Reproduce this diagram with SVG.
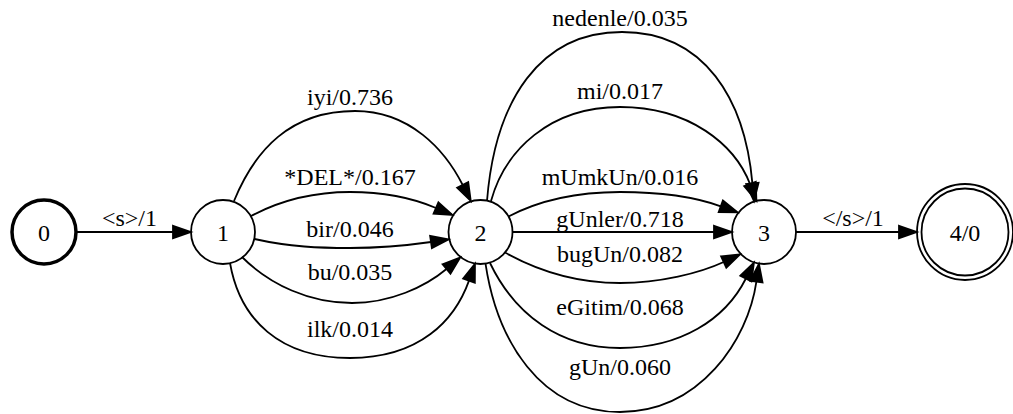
<svg xmlns="http://www.w3.org/2000/svg" width="1013" height="414" viewBox="0 0 1013 414">
  <style>
    .state { fill: none; stroke: #000; stroke-width: 1.8; }
    .start { stroke-width: 3.5; }
    .edge { fill: none; stroke: #000; stroke-width: 1.8; marker-end: url(#arrow); }
    text { font-family: "Liberation Serif", "Times New Roman", serif; font-size: 24px; fill: #000; text-anchor: middle; }
  </style>
  <defs>
    <!-- filled arrowhead; the edge path ends at the arrow's base -->
    <marker id="arrow" markerUnits="userSpaceOnUse" viewBox="-1 -8 20 16" refX="0" refY="0" markerWidth="20" markerHeight="16" orient="auto" overflow="visible">
      <path d="M0,-6.2 L17.8,0 L0,6.2 Z" fill="#000" stroke="#000" stroke-width="1.8" stroke-linejoin="miter"/>
    </marker>
  </defs>

  <!-- transitions -->
  <g id="edges">
    <g id="e0_1">
      <path class="edge" d="M76,232 L173,232"/>
      <text x="129.5" y="226">&lt;s&gt;/1</text>
    </g>
    <g id="e1_2_iyi">
      <path class="edge" d="M234,201 C255,150 290,111 355,111 C410,111 445,150 462.7,185"/>
      <text x="350" y="105">iyi/0.736</text>
    </g>
    <g id="e1_2_del">
      <path class="edge" d="M251,216 C285,198 320,192 350,192 C385,192 415,199 436,208"/>
      <text x="350" y="185">*DEL*/0.167</text>
    </g>
    <g id="e1_2_bir">
      <path class="edge" d="M254.5,239 C290,247 320,248 350,248 C380,248 410,245 431,242"/>
      <text x="350" y="237">bir/0.046</text>
    </g>
    <g id="e1_2_bu">
      <path class="edge" d="M242,257 C270,285 310,303 352,303 C390,303 425,287 446.5,269"/>
      <text x="350" y="280">bu/0.035</text>
    </g>
    <g id="e1_2_ilk">
      <path class="edge" d="M230,263 C240,320 280,358 350,358 C420,358 455,320 469,280.6"/>
      <text x="350" y="337">ilk/0.014</text>
    </g>
    <g id="e2_3_nedenle">
      <path class="edge" d="M487,201 C495,100 540,32 622,32 C705,32 745,100 752.4,183.4"/>
      <text x="620" y="26">nedenle/0.035</text>
    </g>
    <g id="e2_3_mi">
      <path class="edge" d="M491,201 C505,150 550,107 620,107 C690,107 735,145 750,184"/>
      <text x="620" y="99">mi/0.017</text>
    </g>
    <g id="e2_3_mumkun">
      <path class="edge" d="M508.5,216.5 C540,200 580,192 620,192 C660,192 695,197 720.8,206.3"/>
      <text x="620" y="185">mUmkUn/0.016</text>
    </g>
    <g id="e2_3_gunler">
      <path class="edge" d="M512.5,232 L714,232"/>
      <text x="620" y="227">gUnler/0.718</text>
    </g>
    <g id="e2_3_bugun">
      <path class="edge" d="M505,252.5 C540,272 580,283 620,283 C660,283 700,273 723.7,262"/>
      <text x="620" y="262">bugUn/0.082</text>
    </g>
    <g id="e2_3_egitim">
      <path class="edge" d="M490,263 C515,315 560,348 620,348 C680,348 725,320 745.9,278.5"/>
      <text x="620" y="315">eGitim/0.068</text>
    </g>
    <g id="e2_3_gun">
      <path class="edge" d="M485.5,263.6 C497,340 540,412 620,412 C700,412 748,340 756.4,281.6"/>
      <text x="620" y="375">gUn/0.060</text>
    </g>
    <g id="e3_4">
      <path class="edge" d="M796,232 L899,232"/>
      <text x="853" y="226">&lt;/s&gt;/1</text>
    </g>
  </g>

  <!-- states -->
  <g id="s0">
    <circle class="state start" cx="44" cy="232" r="32"/>
    <text x="44" y="241">0</text>
  </g>
  <g id="s1">
    <circle class="state" cx="223" cy="232" r="32"/>
    <text x="223" y="241">1</text>
  </g>
  <g id="s2">
    <circle class="state" cx="480.5" cy="232" r="32"/>
    <text x="480.5" y="241">2</text>
  </g>
  <g id="s3">
    <circle class="state" cx="764" cy="232" r="32"/>
    <text x="764" y="241">3</text>
  </g>
  <g id="s4">
    <circle class="state" cx="965" cy="232" r="48"/>
    <circle class="state" cx="965" cy="232" r="43.5"/>
    <text x="965" y="241">4/0</text>
  </g>
</svg>
